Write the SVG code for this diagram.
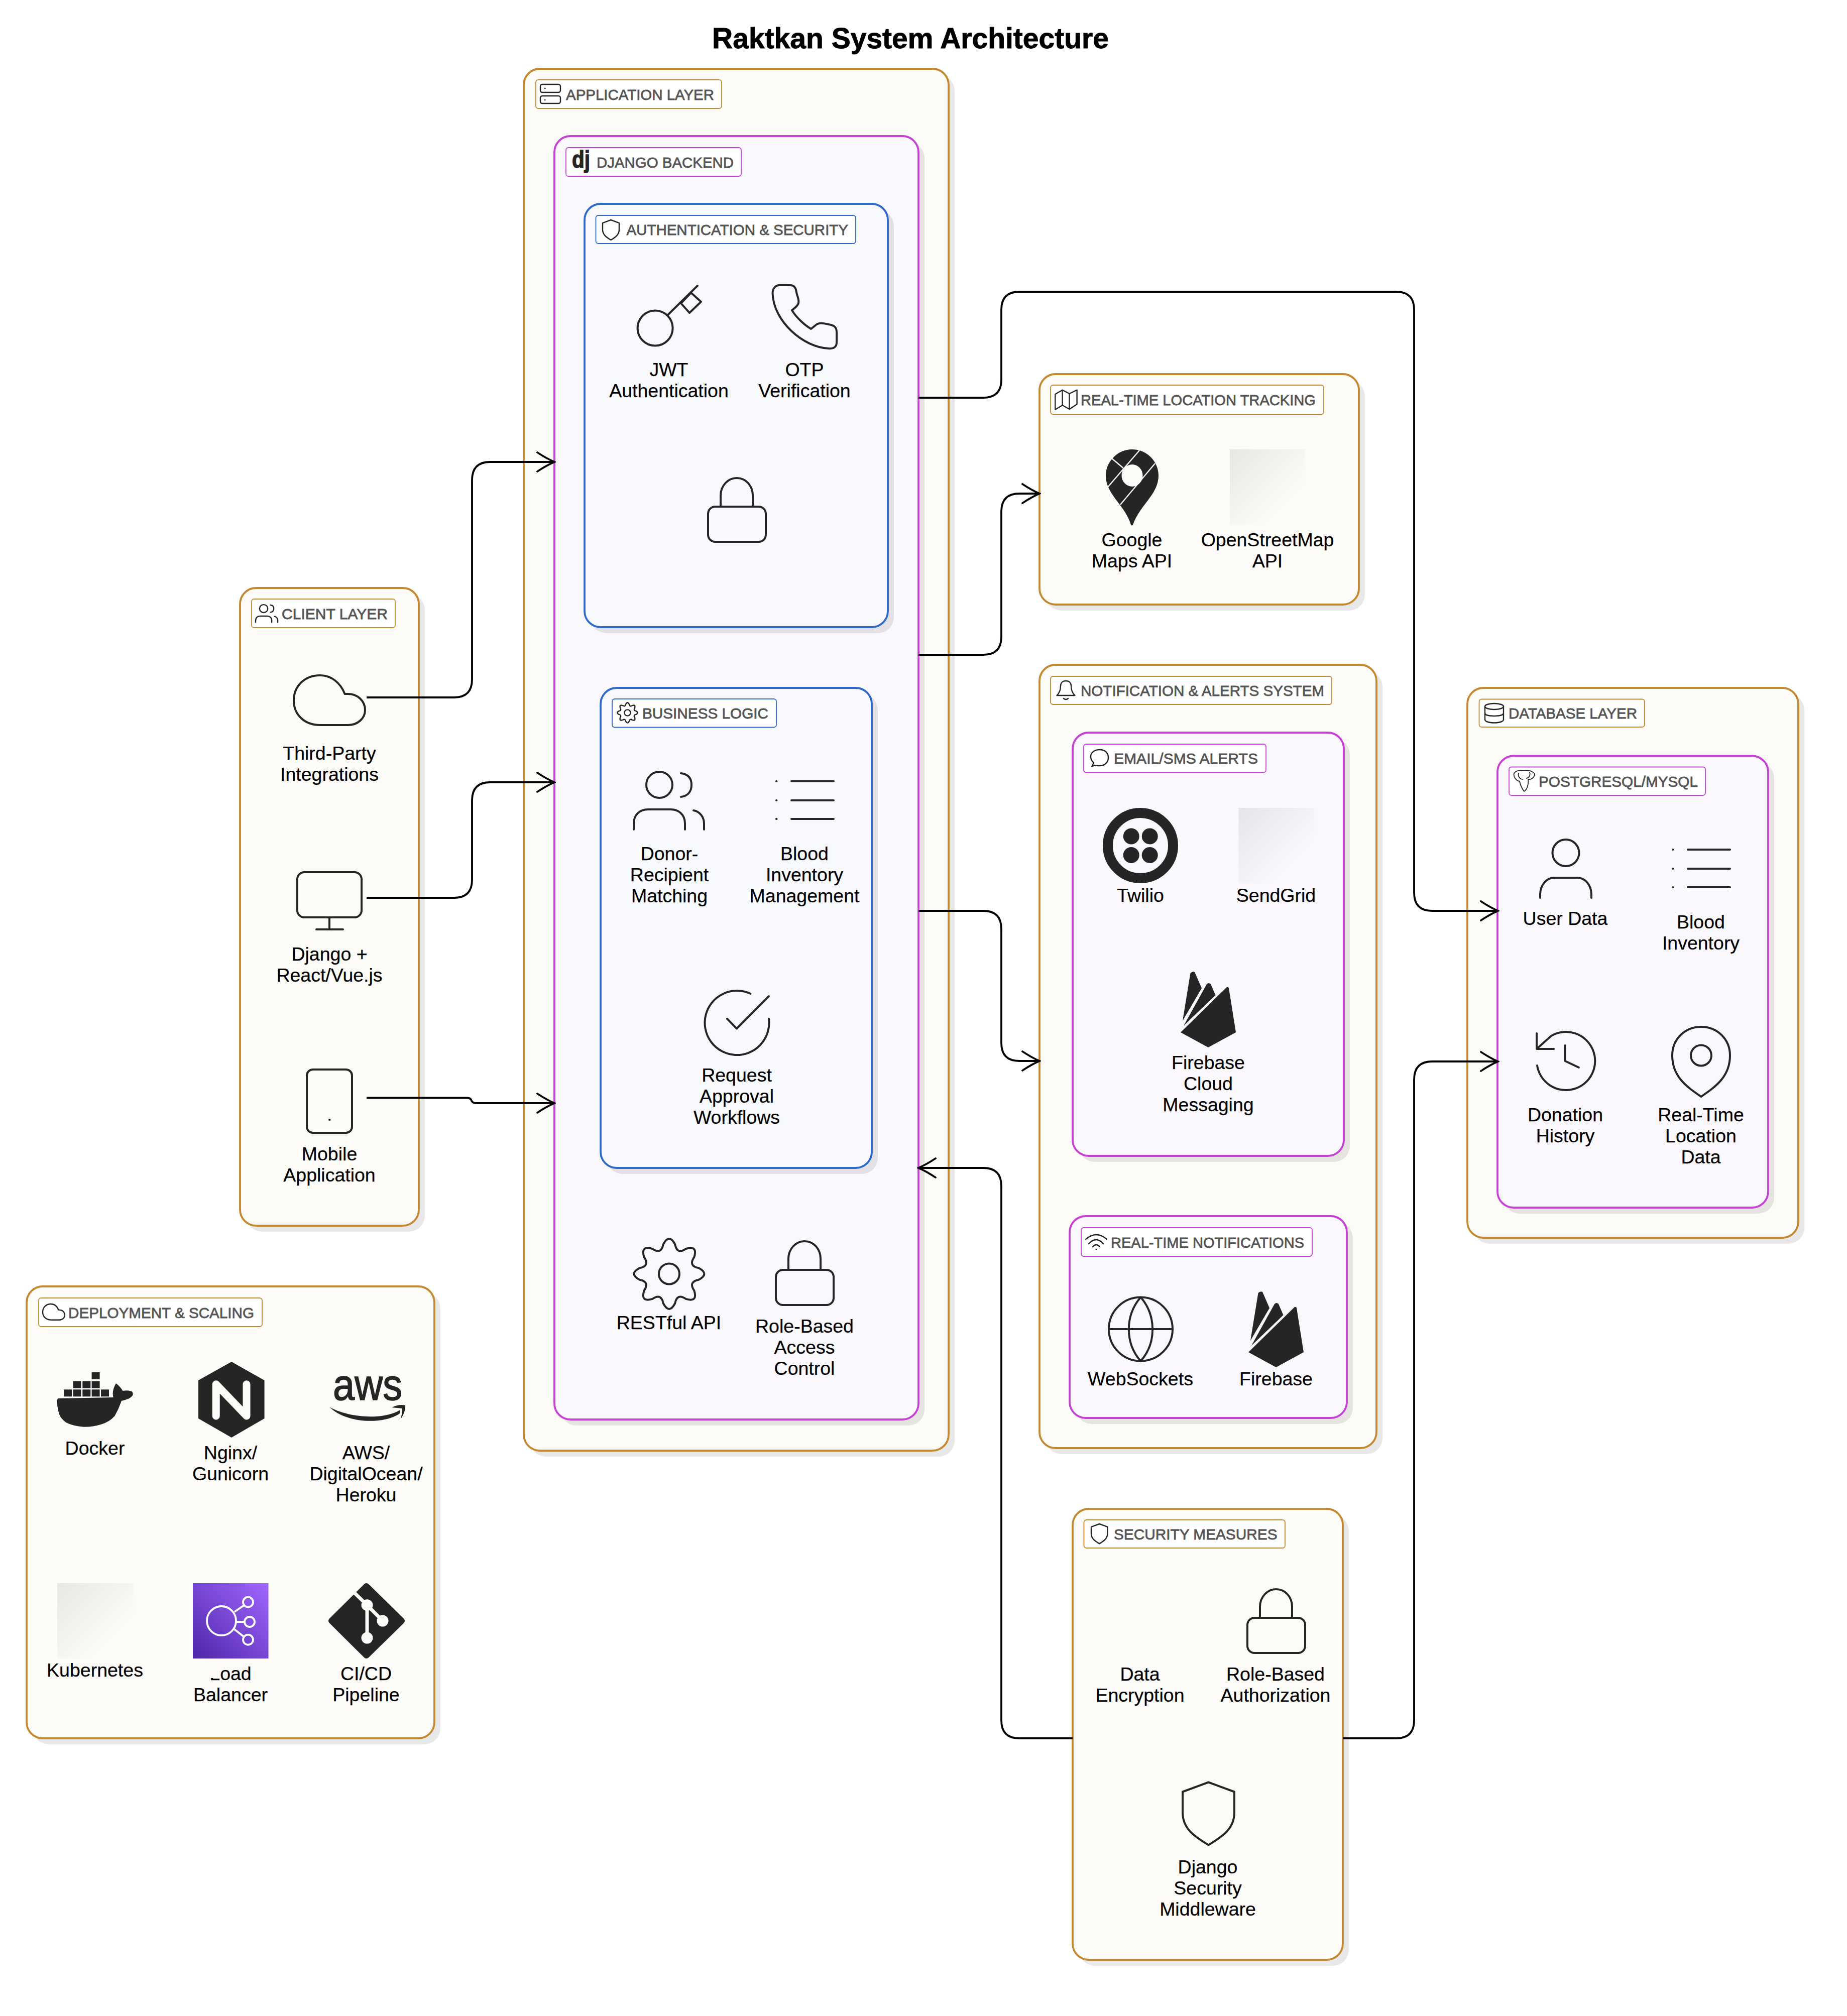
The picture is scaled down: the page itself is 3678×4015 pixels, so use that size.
<svg xmlns="http://www.w3.org/2000/svg" xmlns:xlink="http://www.w3.org/1999/xlink" width="3678" height="4015" viewBox="0 0 3678 4015">
<style>
text{font-family:"Liberation Sans",Arial,sans-serif}
.title{font-size:57px;font-weight:700;fill:#000;stroke:#000;stroke-width:.9;text-anchor:middle}
.n{font-size:37.5px;fill:#000;stroke:#000;stroke-width:.25;text-anchor:middle}
.gl{font-size:29.5px;fill:#555;stroke:#555;stroke-width:.8}
.sh{fill:#000;fill-opacity:.09}
.o{fill:#fcfbf7;stroke:#c4882e;stroke-width:3.8}
.p{fill:#fbf8fd;stroke:#c640d6;stroke-width:3.8}
.b{fill:#f8f9fd;stroke:#2d6ac9;stroke-width:3.8}
.lo{fill:#fff;stroke:#c4882e;stroke-width:1.8}
.lp{fill:#fff;stroke:#c640d6;stroke-width:1.8}
.lb{fill:#fff;stroke:#2d6ac9;stroke-width:1.8}
.i{fill:none;stroke:#252525;stroke-width:4;stroke-linecap:round;stroke-linejoin:round}
.s{fill:none;stroke:#252525;stroke-width:2.4;stroke-linecap:round;stroke-linejoin:round}
.s circle,defs path,defs rect,defs ellipse{vector-effect:non-scaling-stroke}
.f{fill:#252525}
.c{fill:none;stroke:#000;stroke-width:3.8}
.ph{fill:url(#ghost)}
</style>
<defs>
<linearGradient id="ghost" x1="0" y1="0" x2="1" y2="1"><stop offset="0" stop-color="#000" stop-opacity=".08"/><stop offset=".72" stop-color="#000" stop-opacity="0"/></linearGradient>
<linearGradient id="lbg" x1="0" y1="1" x2="1" y2="0"><stop offset="0" stop-color="#4d27a8"/><stop offset="1" stop-color="#a166ff"/></linearGradient>
<marker id="arr" markerUnits="userSpaceOnUse" viewBox="-37 -23 40 46" refX="0" refY="0" markerWidth="40" markerHeight="46" orient="auto"><path d="M-34 -19Q-16 -7 0 0Q-16 7 -34 19" fill="none" stroke="#000" stroke-width="3.8" stroke-linecap="round"/></marker>
<path id="cloud" d="M52.500 99C21 99 0 78 0 50C0 22 21 0 52.500 0C75 0 93 15 101.600 37L108 37C127 37 142 51 142 69C142 86 127 99 108 99Z"/>
<g id="lock"><rect x="0" y="57" width="115" height="70" rx="14"/><path d="M25 57V35C25 15 40 0 57 0C75 0 89 15 89 35V57"/></g>
<g id="list"><path d="M30 0H114M30 38H114M30 75H114M0 0h.5M0 38h.5M0 75h.5"/></g>
<path id="shield" d="M51.500 0L103 19V60C103 95 75 110 51.500 125C28 110 0 95 0 60V19Z"/>
<path id="gear" d="M58.800 -11.700Q81 0 58.800 11.700Q37.900 15.700 49.900 33.300Q57.300 57.300 33.300 49.900Q15.700 37.900 11.700 58.800Q0 81 -11.700 58.800Q-15.700 37.900 -33.300 49.900Q-57.300 57.300 -49.900 33.300Q-37.900 15.700 -58.800 11.700Q-81 0 -58.800 -11.700Q-37.900 -15.700 -49.900 -33.300Q-57.300 -57.300 -33.300 -49.900Q-15.700 -37.900 -11.700 -58.800Q0 -81 11.700 -58.800Q15.700 -37.900 33.300 -49.900Q57.300 -57.300 49.900 -33.300Q37.900 -15.700 58.800 -11.700Z"/>
<g id="users"><ellipse cx="51" cy="-49" rx="26" ry="26"/><path d="M94 -72C110 -70 115 -60 115 -49C115 -38 110 -27 94 -25M0 40V28C0 10 13 0 28 0H74C89 0 102 10 102 28V40M119 2C132 4 140 16 140 28V40"/></g>
<g id="fire" class="f"><path d="M4 98L19.500 3Q24 -1 28 1L42 33Z"/><path d="M6 108L52 25Q56 21 60 25L69.500 47Z"/><path d="M0 121L92 31Q95 30 96 33L110 121L55 151Z"/></g>
</defs>
<rect width="3678" height="4015" fill="#fff"/>
<text class="title" x="1813" y="96">Raktkan System Architecture</text>

<g id="groups">
<g id="client-layer"><rect class="sh" x="490" y="1183" width="356" height="1270" rx="32"/><rect class="o" x="478" y="1171" width="356" height="1270" rx="32"/><rect class="lo" x="501" y="1193" width="286" height="57" rx="5"/>
<g class="s" transform="translate(509,1227) scale(.315,.305)"><use xlink:href="#users"/></g><text class="gl" x="561" y="1233" textLength="211" lengthAdjust="spacingAndGlyphs">CLIENT LAYER</text></g>

<g id="application-layer"><rect class="sh" x="1055" y="149" width="846" height="2752" rx="32"/><rect class="o" x="1043" y="137" width="846" height="2752" rx="32"/><rect class="lo" x="1067" y="159" width="370" height="57" rx="5"/>
<g class="s"><rect x="1076" y="168" width="40" height="16" rx="4"/><rect x="1076" y="191" width="40" height="15" rx="4"/><path d="M1085 176h.5M1085 199h.5"/></g><text class="gl" x="1127" y="199" textLength="295" lengthAdjust="spacingAndGlyphs">APPLICATION LAYER</text></g>

<g id="django-backend"><rect class="sh" x="1116" y="283" width="725" height="2556" rx="32"/><rect class="p" x="1104" y="271" width="725" height="2556" rx="32"/><rect class="lp" x="1127" y="294" width="349" height="57" rx="5"/>
<text x="1139" y="334" font-size="48" font-weight="700" fill="#252525" stroke="#252525" stroke-width="1.5" textLength="36" lengthAdjust="spacingAndGlyphs">dj</text><text class="gl" x="1188" y="334" textLength="273" lengthAdjust="spacingAndGlyphs">DJANGO BACKEND</text></g>

<g id="auth-security"><rect class="sh" x="1176" y="418" width="604" height="843" rx="32"/><rect class="b" x="1164" y="406" width="604" height="843" rx="32"/><rect class="lb" x="1186.500" y="429" width="517.500" height="56" rx="5"/>
<g class="s" transform="translate(1200,438) scale(.32)"><use xlink:href="#shield"/></g><text class="gl" x="1247.500" y="468" textLength="441.500" lengthAdjust="spacingAndGlyphs">AUTHENTICATION &amp; SECURITY</text></g>

<g id="business-logic"><rect class="sh" x="1208" y="1382" width="540" height="956" rx="32"/><rect class="b" x="1196" y="1370" width="540" height="956" rx="32"/><rect class="lb" x="1219" y="1392" width="327" height="56.500" rx="5"/>
<g class="s" transform="translate(1249.500,1419.500) scale(.29)"><use xlink:href="#gear"/><circle r="21"/></g><text class="gl" x="1279" y="1431" textLength="251" lengthAdjust="spacingAndGlyphs">BUSINESS LOGIC</text></g>

<g id="location-tracking"><rect class="sh" x="2082" y="757" width="636" height="459" rx="32"/><rect class="o" x="2070" y="745" width="636" height="459" rx="32"/><rect class="lo" x="2092" y="767" width="544" height="58" rx="5"/>
<g class="s"><path d="M2101.300 785L2115.600 776.700L2129.500 784L2144.600 776.700V805L2129.500 815L2115.600 807L2101.300 815.700ZM2115.600 776.700V807M2129.500 784V815"/></g><text class="gl" x="2152" y="807" textLength="468" lengthAdjust="spacingAndGlyphs">REAL-TIME LOCATION TRACKING</text></g>

<g id="notification-system"><rect class="sh" x="2082" y="1336" width="671" height="1560" rx="32"/><rect class="o" x="2070" y="1324" width="671" height="1560" rx="32"/><rect class="lo" x="2092" y="1347" width="560" height="56" rx="5"/>
<g class="s"><path d="M2104.500 1385C2110 1380 2112 1374 2112 1366C2112 1360 2116 1356 2122.500 1356C2129 1356 2133 1360 2133 1366C2133 1374 2135 1380 2140.500 1385ZM2118 1391Q2122.500 1395 2127 1391"/></g><text class="gl" x="2152" y="1386" textLength="485" lengthAdjust="spacingAndGlyphs">NOTIFICATION &amp; ALERTS SYSTEM</text></g>

<g id="email-sms"><rect class="sh" x="2148" y="1471" width="540" height="843" rx="32"/><rect class="p" x="2136" y="1459" width="540" height="843" rx="32"/><rect class="lp" x="2158" y="1482" width="363" height="56.500" rx="5"/>
<g class="s"><path d="M2174 1527L2178 1519C2172 1514 2172 1508 2172 1507C2172 1498 2180 1493 2190 1493C2200 1493 2207 1499 2207 1509C2207 1519 2199 1525 2190 1525C2186 1525 2183 1525 2180 1524Z"/></g><text class="gl" x="2218" y="1521" textLength="287" lengthAdjust="spacingAndGlyphs">EMAIL/SMS ALERTS</text></g>

<g id="realtime-notifications"><rect class="sh" x="2142" y="2434" width="552" height="402" rx="32"/><rect class="p" x="2130" y="2422" width="552" height="402" rx="32"/><rect class="lp" x="2153" y="2445" width="460" height="57" rx="5"/>
<g class="s"><path d="M2162 2468Q2183 2450 2204 2468M2168 2477Q2183 2461 2197 2477M2176 2483Q2183 2475 2190 2483M2182.600 2488h.5"/></g><text class="gl" x="2212" y="2485" textLength="385" lengthAdjust="spacingAndGlyphs">REAL-TIME NOTIFICATIONS</text></g>

<g id="database-layer"><rect class="sh" x="2934" y="1382" width="659" height="1095" rx="32"/><rect class="o" x="2922" y="1370" width="659" height="1095" rx="32"/><rect class="lo" x="2945.500" y="1392.500" width="329.500" height="55.500" rx="5"/>
<g class="s"><ellipse cx="2975.500" cy="1407" rx="18.500" ry="6"/><path d="M2957 1407V1433C2957 1437 2965 1439.500 2975.500 1439.500C2986 1439.500 2994 1437 2994 1433V1407M2957 1420C2957 1424 2965 1426 2975.500 1426C2986 1426 2994 1424 2994 1420"/></g><text class="gl" x="3004" y="1431" textLength="256" lengthAdjust="spacingAndGlyphs">DATABASE LAYER</text></g>

<g id="postgres-mysql"><rect class="sh" x="2994" y="1517.500" width="539" height="899.500" rx="32"/><rect class="p" x="2982" y="1505.500" width="539" height="899.500" rx="32"/><rect class="lp" x="3005" y="1527.500" width="391" height="56.500" rx="5"/>
<g class="s" style="stroke-width:1.8"><path d="M3035 1535C3027 1533 3018 1535 3015 1540C3013 1548 3020 1555 3026 1556C3028 1566 3032 1572 3035 1576C3042 1572 3044 1560 3043 1552C3050 1553 3056 1548 3056 1541C3052 1536 3044 1533 3035 1535ZM3024 1540C3022 1546 3027 1552 3032 1552M3046 1538C3048 1544 3045 1549 3040 1550"/></g><text class="gl" x="3064" y="1567" textLength="317" lengthAdjust="spacingAndGlyphs">POSTGRESQL/MYSQL</text></g>

<g id="deployment-scaling"><rect class="sh" x="65" y="2574" width="812" height="900" rx="32"/><rect class="o" x="53" y="2562" width="812" height="900" rx="32"/><rect class="lo" x="77" y="2585" width="445" height="57" rx="5"/>
<g class="s" transform="translate(85,2597) scale(.31,.32)"><use xlink:href="#cloud"/></g><text class="gl" x="136" y="2625" textLength="370" lengthAdjust="spacingAndGlyphs">DEPLOYMENT &amp; SCALING</text></g>

<g id="security-measures"><rect class="sh" x="2148" y="3017" width="538" height="898" rx="32"/><rect class="o" x="2136" y="3005" width="538" height="898" rx="32"/><rect class="lo" x="2158.500" y="3027" width="400.500" height="56" rx="5"/>
<g class="s" transform="translate(2173,3035) scale(.315)"><use xlink:href="#shield"/></g><text class="gl" x="2218" y="3066" textLength="325.500" lengthAdjust="spacingAndGlyphs">SECURITY MEASURES</text></g>
</g>

<g id="nodes">
<g id="third-party"><g class="i" transform="translate(585,1345)"><use xlink:href="#cloud"/></g><text class="n" y="1513"><tspan x="656">Third-Party</tspan><tspan x="656" dy="42">Integrations</tspan></text></g>
<g id="web-client"><g class="i"><rect x="592" y="1737" width="128" height="90" rx="14"/><path d="M656 1827V1851M630 1851H683"/></g><text class="n" y="1913"><tspan x="656">Django +</tspan><tspan x="656" dy="42">React/Vue.js</tspan></text></g>
<g id="mobile"><g class="i"><rect x="611" y="2130" width="90" height="126" rx="12"/><path d="M656 2230h.5"/></g><text class="n" y="2311"><tspan x="656">Mobile</tspan><tspan x="656" dy="42">Application</tspan></text></g>

<g id="jwt"><g class="i"><circle cx="1304.600" cy="653.500" r="35"/><path d="M1329 628L1389 569M1356 604L1376 583L1396 601L1373 623Z"/></g><text class="n" y="749"><tspan x="1332">JWT</tspan><tspan x="1332" dy="42">Authentication</tspan></text></g>
<g id="otp"><path class="i" d="M1538.500 584C1538.500 574 1545 568 1552 568H1574C1582 568 1585 574 1586 582C1587 590 1592 596 1590 604C1588 610 1582 614 1577 618C1585 631 1600 646 1615 655L1625 647C1631 642 1640 644 1650 646C1660 648 1666 650 1666 662V682C1666 691 1660 695 1650 694C1600 692 1540 640 1538.500 584Z"/><text class="n" y="749"><tspan x="1602">OTP</tspan><tspan x="1602" dy="42">Verification</tspan></text></g>
<g id="auth-lock" class="i" transform="translate(1410,952)"><use xlink:href="#lock"/></g>

<g id="matching"><g class="i" transform="translate(1262,1612)"><use xlink:href="#users"/></g><text class="n" y="1713"><tspan x="1333">Donor-</tspan><tspan x="1333" dy="42">Recipient</tspan><tspan x="1333" dy="42">Matching</tspan></text></g>
<g id="inventory"><g class="i" transform="translate(1546,1556)"><use xlink:href="#list"/></g><text class="n" y="1713"><tspan x="1602">Blood</tspan><tspan x="1602" dy="42">Inventory</tspan><tspan x="1602" dy="42">Management</tspan></text></g>
<g id="workflows"><path class="i" d="M1494.500 1979A64 64 0 1 0 1531 2029M1448 2029L1467 2048.500L1531 1984"/><text class="n" y="2154"><tspan x="1467">Request</tspan><tspan x="1467" dy="42">Approval</tspan><tspan x="1467" dy="42">Workflows</tspan></text></g>

<g id="restful"><g class="i" transform="translate(1332.500,2537)"><use xlink:href="#gear"/><circle r="20.500"/></g><text class="n" x="1332" y="2647">RESTful API</text></g>
<g id="rbac"><g class="i" transform="translate(1545,2472)"><use xlink:href="#lock"/></g><text class="n" y="2654"><tspan x="1602">Role-Based</tspan><tspan x="1602" dy="42">Access</tspan><tspan x="1602" dy="42">Control</tspan></text></g>

<g id="google-maps"><path class="f" d="M2254 895C2285 895 2307 920 2307 947C2307 985 2270 1005 2256 1045Q2254 1048 2252 1045C2240 1005 2202 985 2202 947C2202 920 2225 895 2254 895Z"/><ellipse cx="2254.500" cy="947" rx="21" ry="22" fill="#fcfbf7"/><path d="M2269 897L2206 970M2300 923L2231 1005M2214 913L2236.600 932" stroke="#fcfbf7" stroke-width="2.400" fill="none"/><text class="n" y="1088"><tspan x="2254">Google</tspan><tspan x="2254" dy="42">Maps API</tspan></text></g>
<g id="osm"><rect class="ph" x="2449" y="895" width="150" height="150"/><text class="n" y="1088"><tspan x="2524">OpenStreetMap</tspan><tspan x="2524" dy="42">API</tspan></text></g>

<g id="twilio"><circle cx="2271" cy="1684" r="65" fill="none" stroke="#252525" stroke-width="20"/><g class="f"><circle cx="2252.700" cy="1665.500" r="16"/><circle cx="2289.700" cy="1665.500" r="16"/><circle cx="2252.700" cy="1703" r="16"/><circle cx="2289.700" cy="1703" r="16"/></g><text class="n" x="2271" y="1796">Twilio</text></g>
<g id="sendgrid"><rect class="ph" x="2466.500" y="1609" width="150" height="150"/><text class="n" x="2541" y="1796">SendGrid</text></g>
<g id="fcm"><use xlink:href="#fire" transform="translate(2351,1935)"/><text class="n" y="2129"><tspan x="2406">Firebase</tspan><tspan x="2406" dy="42">Cloud</tspan><tspan x="2406" dy="42">Messaging</tspan></text></g>
<g id="websockets"><g class="i"><circle cx="2271.500" cy="2647" r="63.500"/><path d="M2271.500 2583.500C2240 2620 2240 2675 2271.500 2710.500C2303 2675 2303 2620 2271.500 2583.500ZM2208 2647H2335"/></g><text class="n" x="2271" y="2759">WebSockets</text></g>
<g id="firebase"><use xlink:href="#fire" transform="translate(2486,2572)"/><text class="n" x="2541" y="2759">Firebase</text></g>

<g id="user-data"><g class="i"><circle cx="3118" cy="1698.500" r="26.500"/><path d="M3067 1788V1782C3067 1762 3080 1748 3095 1748H3141C3156 1748 3169 1762 3169 1782V1788"/></g><text class="n" x="3117" y="1842">User Data</text></g>
<g id="db-inventory"><g class="i" transform="translate(3331,1692)"><use xlink:href="#list"/></g><text class="n" y="1849"><tspan x="3387">Blood</tspan><tspan x="3387" dy="42">Inventory</tspan></text></g>
<g id="donation"><path class="i" d="M3061 2122A58 58 0 1 0 3089 2063L3060 2089M3060 2058V2089H3094M3116.500 2082V2113L3144 2126"/><text class="n" y="2233"><tspan x="3117">Donation</tspan><tspan x="3117" dy="42">History</tspan></text></g>
<g id="location-data"><g class="i"><path d="M3387.500 2184C3360 2165 3330 2145 3330 2102C3330 2070 3355 2045 3387.500 2045C3420 2045 3445 2070 3445 2102C3445 2145 3415 2165 3387.500 2184Z"/><circle cx="3387.500" cy="2102" r="20.500"/></g><text class="n" y="2233"><tspan x="3387">Real-Time</tspan><tspan x="3387" dy="42">Location</tspan><tspan x="3387" dy="42">Data</tspan></text></g>

<g id="docker"><g class="f"><rect x="182.600" y="2733" width="16" height="14"/><rect x="145.500" y="2750.700" width="16" height="14"/><rect x="164.300" y="2750.700" width="16" height="14"/><rect x="182.600" y="2750.700" width="16" height="14"/><rect x="127.200" y="2767.300" width="16" height="14"/><rect x="145.500" y="2767.300" width="16" height="14"/><rect x="164.300" y="2767.300" width="16" height="14"/><rect x="182.600" y="2767.300" width="16" height="14"/><rect x="201" y="2767.300" width="16" height="14"/><path d="M113.700 2788L115.300 2785L225.700 2783Q222 2770 231 2755Q240 2762 244.500 2770Q256 2768 263.400 2771.700L265 2776.700Q262 2786 241.800 2790Q237 2805 228.400 2820Q218 2832 201.500 2836.700Q185 2842 166.500 2841.700Q145 2840 131.500 2833Q121 2825 118 2816.700Q113 2800 113.700 2788Z"/></g><text class="n" x="189" y="2897">Docker</text></g>
<g id="nginx"><path class="f" d="M461 2712L526.500 2749V2825L461 2863L395 2825V2749Z"/><path d="M430.200 2820V2756.700L491 2820V2756.700" fill="none" stroke="#fcfbf7" stroke-width="15" stroke-linecap="round" stroke-linejoin="round"/><text class="n" y="2906"><tspan x="459">Nginx/</tspan><tspan x="459" dy="42">Gunicorn</tspan></text></g>
<g id="aws"><text x="663" y="2788" font-size="88" fill="#252525" stroke="#252525" stroke-width="1.6" textLength="138" lengthAdjust="spacingAndGlyphs">aws</text><path class="f" d="M656 2802C690 2822 760 2830 797 2808L796 2815C765 2837 690 2836 656 2802ZM780 2803C790 2798 800 2797 807 2799C808 2806 804 2818 798 2826C800 2817 802 2810 800 2805C795 2804 787 2804 780 2803Z"/><text class="n" y="2906"><tspan x="729">AWS/</tspan><tspan x="729" dy="42">DigitalOcean/</tspan><tspan x="729" dy="42">Heroku</tspan></text></g>
<g id="kubernetes"><rect class="ph" x="114" y="3153" width="151" height="150"/><text class="n" x="189" y="3339">Kubernetes</text></g>
<g id="load-balancer"><rect x="384" y="3153" width="150.500" height="150" fill="url(#lbg)"/><g fill="none" stroke="#fff" stroke-width="3.800"><circle cx="441" cy="3228" r="29"/><circle cx="494" cy="3190.700" r="10"/><circle cx="497" cy="3230" r="10"/><circle cx="494" cy="3265.700" r="10"/><path d="M467 3210L486 3197M470.600 3230H487.500M467 3245L486 3260"/></g><text class="n" y="3346"><tspan x="459">Load</tspan><tspan x="459" dy="42">Balancer</tspan></text><rect x="419" y="3315" width="6.500" height="27" fill="#fcfbf7"/></g>
<g id="cicd"><path d="M729.600 3159L800 3228L729.600 3297L660 3228Z" fill="#252525" stroke="#252525" stroke-width="12" stroke-linejoin="round"/><g stroke="#fcfbf7" stroke-width="7" fill="#fcfbf7"><path d="M705.400 3171.700L731 3196.700L762 3228M731 3196.700V3262" fill="none"/><circle cx="731" cy="3196.700" r="8"/><circle cx="762" cy="3228" r="8"/><circle cx="731" cy="3262" r="8"/></g><text class="n" y="3346"><tspan x="729">CI/CD</tspan><tspan x="729" dy="42">Pipeline</tspan></text></g>

<g id="data-encryption"><text class="n" y="3347"><tspan x="2270">Data</tspan><tspan x="2270" dy="42">Encryption</tspan></text></g>
<g id="rba"><g class="i" transform="translate(2484,3165)"><use xlink:href="#lock"/></g><text class="n" y="3347"><tspan x="2540">Role-Based</tspan><tspan x="2540" dy="42">Authorization</tspan></text></g>
<g id="middleware"><g class="i" transform="translate(2355,3549.500)"><use xlink:href="#shield"/></g><text class="n" y="3731"><tspan x="2405">Django</tspan><tspan x="2405" dy="42">Security</tspan><tspan x="2405" dy="42">Middleware</tspan></text></g>
</g>

<g id="connectors" class="c">
<path d="M730 1389H904Q940 1389 940 1353V956Q940 920 976 920H1104" marker-end="url(#arr)"/>
<path d="M730 1788H904Q940 1788 940 1752V1594Q940 1558 976 1558H1104" marker-end="url(#arr)"/>
<path d="M730 2186.500H930Q936 2186.500 938 2190Q940 2197 948 2197H1104" marker-end="url(#arr)"/>
<path d="M1829 792H1958Q1994 792 1994 756V617Q1994 581 2030 581H2780Q2816 581 2816 617V1778Q2816 1814 2852 1814H2983" marker-end="url(#arr)"/>
<path d="M1829 1304H1958Q1994 1304 1994 1268V1019Q1994 983 2030 983H2070" marker-end="url(#arr)"/>
<path d="M1829 1814H1958Q1994 1814 1994 1850V2077Q1994 2113 2030 2113H2070" marker-end="url(#arr)"/>
<path d="M2136 3462H2030Q1994 3462 1994 3426V2362Q1994 2326 1958 2326H1829" marker-end="url(#arr)"/>
<path d="M2674 3462H2780Q2816 3462 2816 3426V2150Q2816 2114 2852 2114H2983" marker-end="url(#arr)"/>
</g>
</svg>
